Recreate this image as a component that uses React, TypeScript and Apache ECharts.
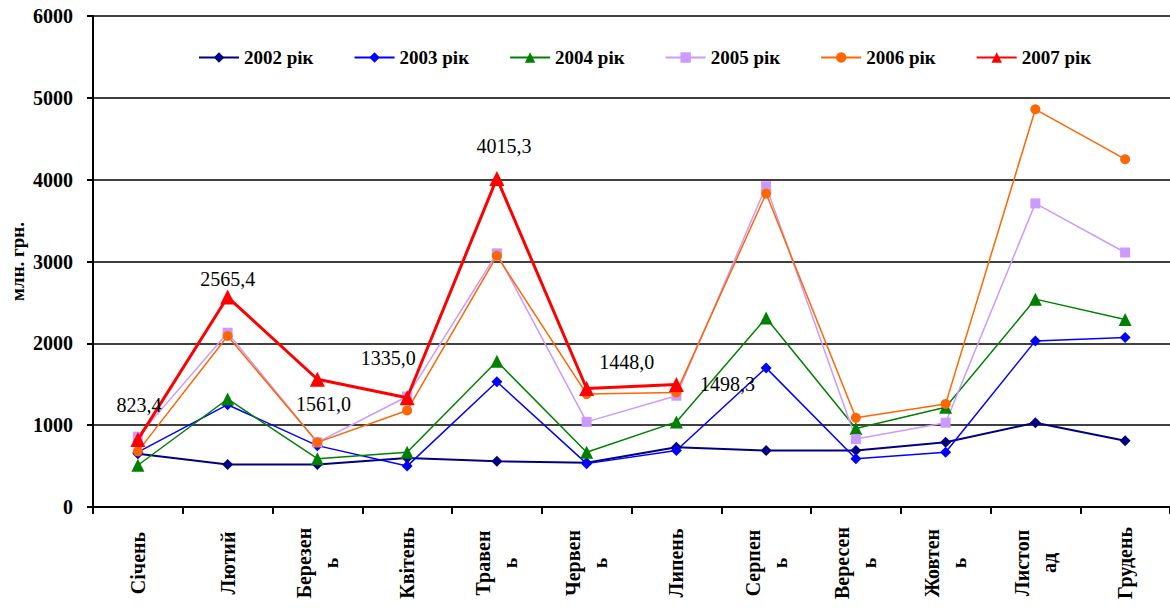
import React, { useEffect, useRef } from "react";
import * as echarts from "echarts";

const months = [
  "Січень", "Лютий", "Березен\nь", "Квітень", "Травен\nь", "Червен\nь",
  "Липень", "Серпен\nь", "Вересен\nь", "Жовтен\nь", "Листоп\nад", "Грудень",
];
const seriesNames = ["2002 рік", "2003 рік", "2004 рік", "2005 рік", "2006 рік", "2007 рік"];
const y2002 = [650, 520, 520, 600, 560, 540, 730, 690, 690, 790, 1030, 810];
const y2003 = [670, 1250, 750, 500, 1530, 530, 690, 1700, 590, 670, 2030, 2070];
const y2004 = [510, 1320, 590, 670, 1780, 670, 1040, 2310, 960, 1220, 2540, 2290];
const y2005 = [860, 2130, 790, 1350, 3100, 1040, 1360, 3920, 830, 1030, 3710, 3110];
const y2006 = [680, 2090, 790, 1180, 3070, 1380, 1400, 3830, 1090, 1260, 4860, 4250];
const y2007 = [823.4, 2565.4, 1561.0, 1335.0, 4015.3, 1448.0, 1498.3];
const yTicks = [0, 1000, 2000, 3000, 4000, 5000, 6000];

const labelOffsets: [number, number][] = [
  [1, -35], [0, -18], [6, 25], [-19, -40], [7, -32], [40, -27], [51, 0],
];

const FONT = "Liberation Serif";

export default function App() {
  const ref = useRef<HTMLDivElement>(null);
  useEffect(() => {
    if (!ref.current) return;
    const chart = echarts.init(ref.current, undefined, { renderer: "svg" });
    const mk = (name: string, data: any[], color: string, symbol: string, size: number, width: number) => ({
      name,
      type: "line",
      data,
      symbol,
      symbolSize: size,
      lineStyle: { color, width },
      itemStyle: { color },
      z: 2,
    });
    const redData = y2007.map((v, i) => ({
      value: v,
      label: {
        show: true,
        position: "inside",
        offset: labelOffsets[i],
        color: "#000",
        fontFamily: FONT,
        fontSize: 20,
        formatter: v.toFixed(1).replace(".", ","),
      },
    }));
    chart.setOption({
      animation: false,
      backgroundColor: "#fff",
      grid: { left: 93, right: 0, top: 16, bottom: 101, containLabel: false },
      legend: {
        top: 43,
        left: 193,
        itemWidth: 40,
        itemHeight: 13,
        itemGap: 40,
        textStyle: { fontFamily: FONT, fontWeight: "bold", fontSize: 19, color: "#000" },
        data: seriesNames,
      },
      xAxis: {
        type: "category",
        data: months,
        boundaryGap: true,
        axisLine: { lineStyle: { color: "#000", width: 2 } },
        axisTick: { show: true, length: 7, inside: false, lineStyle: { color: "#000", width: 2 } },
        axisLabel: {
          rotate: 90,
          interval: 0,
          align: "center",
          margin: 56,
          fontFamily: FONT,
          fontWeight: "bold",
          fontSize: 20,
          color: "#000",
          lineHeight: 27,
        },
      },
      yAxis: {
        type: "value",
        min: 0,
        max: 6000,
        interval: 1000,
        name: "млн. грн.",
        nameLocation: "middle",
        nameRotate: 90,
        nameGap: 66,
        nameMoveOverlap: false,
        nameTextStyle: { fontFamily: FONT, fontWeight: "bold", fontSize: 19, color: "#000" },
        axisLine: { show: true, lineStyle: { color: "#000", width: 2 } },
        axisTick: { show: true, length: 6, inside: false, lineStyle: { color: "#000", width: 2 } },
        splitLine: { lineStyle: { color: "#000", width: 1.5 } },
        axisLabel: {
          margin: 20,
          fontFamily: FONT,
          fontWeight: "bold",
          fontSize: 20,
          color: "#000",
          formatter: (v: number) => (yTicks.includes(v) ? String(v) : ""),
        },
      },
      series: [
        mk(seriesNames[0], y2002, "#000080", "diamond", 11, 2),
        mk(seriesNames[1], y2003, "#0000FF", "diamond", 11, 1.5),
        mk(seriesNames[2], y2004, "#008000", "triangle", 13, 1.5),
        mk(seriesNames[3], y2005, "#CC99FF", "rect", 10, 1.5),
        mk(seriesNames[4], y2006, "#FF6600", "circle", 10, 1.5),
        { ...mk(seriesNames[5], redData, "#FF0000", "triangle", 15, 3), z: 3 },
      ],
    });
    return () => chart.dispose();
  }, []);
  return (
    <div
      ref={ref}
      style={{ position: "fixed", left: 0, top: 0, width: 1170, height: 608, background: "#fff" }}
    />
  );
}
